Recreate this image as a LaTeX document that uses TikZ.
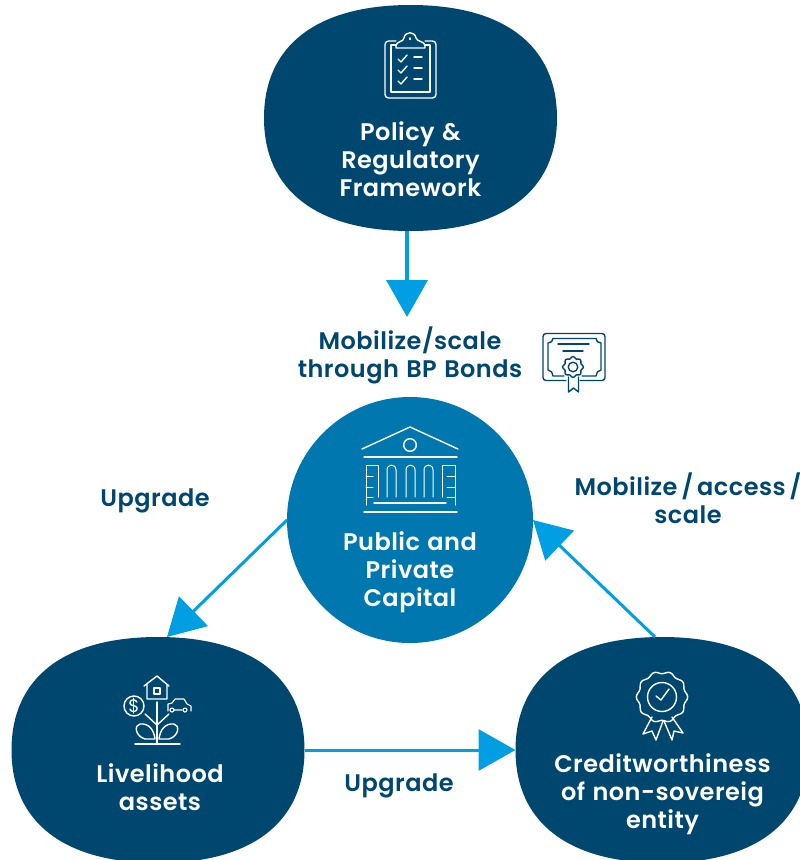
\documentclass[tikz,border=0pt]{standalone}
\usepackage{fontspec}
\setmainfont{Poppins}[BoldFont={Poppins SemiBold},BoldFeatures={LetterSpace=2,WordSpace=1.2}]
\usetikzlibrary{arrows.meta,calc}
\definecolor{navy}{HTML}{00476F}
\definecolor{midblue}{HTML}{0077AE}
\definecolor{sky}{HTML}{009FE3}
\newcommand{\blob}[4]{% cx cy a b
  \fill[navy] ({#1-#3},#2) .. controls ({#1-#3},{#2-.64*#4}) and ({#1-.64*#3},{#2-#4}) .. (#1,{#2-#4})
   .. controls ({#1+.64*#3},{#2-#4}) and ({#1+#3},{#2-.64*#4}) .. ({#1+#3},#2)
   .. controls ({#1+#3},{#2+.64*#4}) and ({#1+.64*#3},{#2+#4}) .. (#1,{#2+#4})
   .. controls ({#1-.64*#3},{#2+#4}) and ({#1-#3},{#2+.64*#4}) .. ({#1-#3},#2) -- cycle;}
\tikzset{
  x=1pt,y=-1pt,
  hub/.style={rectangle,minimum width=293pt,minimum height=226pt,inner sep=0pt,outer sep=0pt},
  capdisc/.style={circle,fill=midblue,minimum size=246pt,inner sep=0pt,outer sep=0pt},
  lab/.style={align=center,font=\fontsize{24}{28}\selectfont\bfseries,inner sep=0pt},
  wlab/.style={lab,text=white},
  blab/.style={lab,text=navy},
  conn/.style={draw=sky,line width=3pt},
  tipA/.style={-{Triangle[length=37pt,width=41pt,fill=sky]}},
  wic/.style={draw=white,line width=1.4pt,line cap=round,line join=round},
  bic/.style={draw=navy,line width=1.4pt,line cap=round,line join=round},
}
\begin{document}
\begin{tikzpicture}
\clip (0,0) rectangle (800,860);
\fill[white] (0,0) rectangle (800,860);
\blob{410.5}{118}{146.5}{113}
\blob{158}{750}{146.5}{113}
\blob{662}{750}{146.5}{113}
\node[hub] (top) at (410.5,118) {};
\node[hub] (live) at (158,750) {};
\node[hub] (credit) at (662,750) {};
\node[capdisc] (capital) at (410,520) {};
\coordinate (mobtip) at (407,317);
% connectors
\draw[conn,line width=4pt,tipA] ([xshift=-3.5pt]top.south) -- (mobtip);
\draw[conn,tipA] (capital.180) -- ([xshift=9pt]live.north);
\draw[conn,tipA] (live.east) -- (credit.west);
\draw[conn,tipA] ([xshift=-7pt]credit.north) -- (capital.0);
% texts
\node[wlab] (t1) at (410.5,159.5) {Policy \&\\Regulatory\\Framework};
\node[blab] (t2) at (410,355.5) {Mobilize/scale\\through BP Bonds};
\node[wlab] (t3) at (410,572.5) {Public and\\Private\\Capital};
\node[blab] (t4) at (155,501) {Upgrade};
\node[blab] (t5) at (688,498.5) {\spaceskip=4pt Mobilize / access /\\scale};
\node[wlab] (t6) at (160,787) {Livelihood\\assets};
\node[blab] (t7) at (399,785.5) {Upgrade};
\node[wlab] (t8) at (662.5,794.5) {Creditworthiness\\of non-sovereig\\entity};
% clipboard
\draw[wic,rounded corners=3.5pt] (396,41) -- (385,41) -- (385,98) -- (436,98) -- (436,41) -- (425,41);
\draw[wic] (396,45) -- (391,45) -- (391,92) -- (430,92) -- (430,45) -- (425,45);
\draw[wic] (396,48) -- (425,48) -- (425,46) .. controls (425,41) and (417,42) .. (416,38) .. controls (415,31) and (405,31) .. (404,38) .. controls (404,42) and (396,41) .. (396,46) -- cycle;
\draw[wic] (410,38) -- (410,39.5);
\foreach \yy in {59,70,81}{
  \draw[wic] (398,\yy) -- (401,{\yy+3}) -- (407,{\yy-4});
  \draw[wic] (414,{\yy-2}) -- (422,{\yy-2});
}
% certificate
\draw[bic,rounded corners=3pt] (566,380.5) -- (543,380.5) -- (543,333.5) -- (605,333.5) -- (605,380.5) -- (580,380.5);
\draw[bic] (553,338.5) -- (596,338.5) .. controls (596,341) and (598,343) .. (601,343) -- (601,370) .. controls (598,370) and (596,373) .. (596,376) -- (582,376) (564,376) -- (553,376) .. controls (553,373) and (551,370) .. (548,370) -- (548,343) .. controls (551,343) and (553,341) .. (553,338.5);
\draw[bic] (558,344) -- (589,344) (563,351) -- (583,351);
\draw[bic] plot[smooth cycle,samples=48,domain=0:352.5] ({573+(9.5+0.9*cos(8*\x))*cos(\x)},{367+(9.5+0.9*cos(8*\x))*sin(\x)});
\draw[bic] (573,367) circle[radius=4.8];
\draw[bic] (568.5,377) -- (568.5,392) -- (573.5,388) -- (578.5,392) -- (578.5,377);
% bank
\draw[wic] (362,449) -- (410,427) -- (458,449);
\draw[wic] (410,445) circle[radius=6.3];
\draw[wic] (364,457) -- (457,457) (364,512) -- (457,512) (374,503) -- (446,503);
\foreach \xx in {387,406,424}{
  \draw[wic,line width=1pt] (\xx,497) -- (\xx,470) .. controls (\xx,463.5) and ({\xx+9},463.5) .. ({\xx+9},470) -- ({\xx+9},497);
}
\draw[wic,line width=1pt] (366,505) -- (366,465) -- (378,465) -- (378,497);
\draw[wic,line width=1pt] (455,505) -- (455,465) -- (442,465) -- (442,497);
\foreach \yy in {476,487,497}{
  \draw[wic,line width=1pt] (366,\yy) -- (373,\yy) (455,\yy) -- (447,\yy);
}
% livelihood
\draw[wic] (135,744) -- (180,744) (157,702) -- (157,744);
\draw[wic] (145,714) -- (157,725) -- (169,714);
\draw[wic] (144,686) -- (157,676) -- (169,686) (147,684) -- (147,699) -- (167,699) -- (167,684);
\draw[wic] (154,688) rectangle (160,694);
\draw[wic] (134,706) circle[radius=10];
\node[font=\fontsize{18}{18}\selectfont,text=white,inner sep=0pt] (dollar) at (134,706) {\$};
\draw[wic] (155,739) .. controls (154,730) and (149,723) .. (140,724) .. controls (134,725) and (135,736) .. (145,739) -- cycle;
\draw[wic] (159,739) .. controls (160,730) and (165,723) .. (174,724) .. controls (180,725) and (179,736) .. (169,739) -- cycle;
\draw[wic,line width=1.1pt] (168,711) -- (168,704) -- (172,703) -- (175,699) -- (184,699) -- (187,704) -- (191,706) -- (191,711) (174,710) -- (182,710);
\draw[wic,line width=1.1pt] (172,710) circle[radius=2] (185,710) circle[radius=2];
% badge
\draw[wic] plot[smooth cycle,samples=72,domain=0:355] ({662+(24.5+1.2*cos(10*\x))*cos(\x)},{697+(24.5+1.2*cos(10*\x))*sin(\x)});
\draw[wic] (662,697) circle[radius=14.5];
\draw[wic] (656,696) -- (661,700) -- (669,689);
\draw[wic] (652,717) -- (643,734) -- (652,731) -- (656,740) -- (663,721);
\draw[wic] (672,717) -- (683,733) -- (674,731) -- (672,740) -- (664,721);
\end{tikzpicture}
\end{document}
